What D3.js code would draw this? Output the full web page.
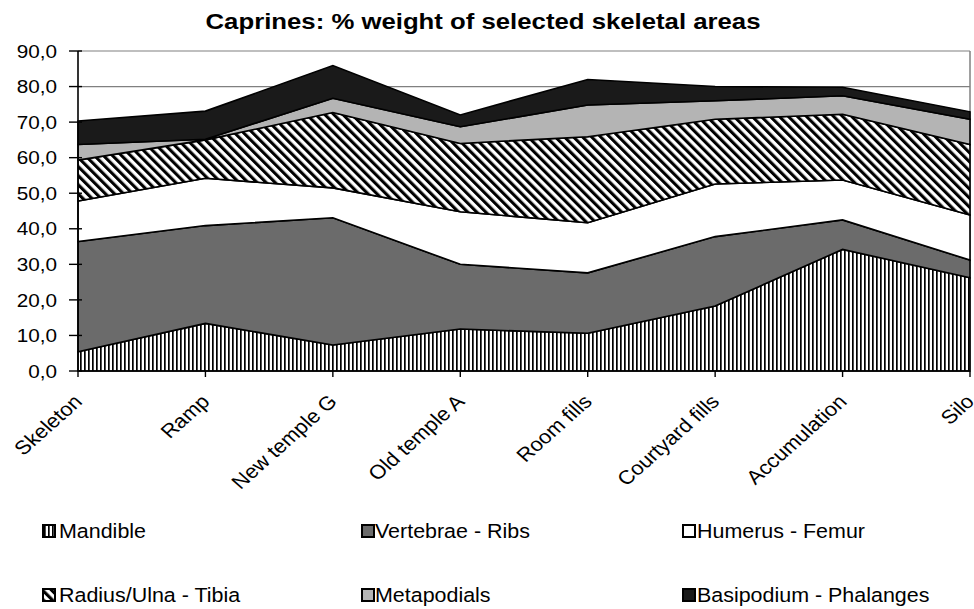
<!DOCTYPE html>
<html>
<head>
<meta charset="utf-8">
<script src="https://cdn.jsdelivr.net/npm/d3@7"></script>
<style>
  html, body { margin: 0; padding: 0; background: #fff; }
  svg { display: block; font-family: "Liberation Sans", Arial, sans-serif; }
</style>
</head>
<body>
<svg id="chart" width="974" height="609"></svg>
<script>
// ---- data ----
const categories = ["Skeleton", "Ramp", "New temple G", "Old temple A", "Room fills", "Courtyard fills", "Accumulation", "Silo"];
const mandible    = [5.4, 13.4, 7.3, 11.8, 10.6, 18.3, 34.2, 26.2];
const vertebrae   = [31.0, 27.5, 35.8, 18.2, 17.0, 19.5, 8.3, 5.0];
const humerus     = [11.4, 13.3, 8.4, 14.8, 14.1, 14.8, 11.2, 12.7];
const radius      = [11.5, 10.8, 21.2, 19.2, 24.2, 18.2, 18.5, 19.8];
const metapodials = [4.4, 0.2, 4.0, 4.7, 8.9, 5.2, 5.2, 7.1];
const basipodium  = [6.6, 7.9, 9.2, 3.3, 7.2, 4.0, 2.4, 2.1];
const seriesNames = ["Mandible", "Vertebrae - Ribs", "Humerus - Femur", "Radius/Ulna - Tibia", "Metapodials", "Basipodium - Phalanges"];
const seriesValues = [mandible, vertebrae, humerus, radius, metapodials, basipodium];
const yTicks = [0, 10, 20, 30, 40, 50, 60, 70, 80, 90];
const chartTitle = "Caprines: % weight of selected skeletal areas";

// ---- setup ----
const svg = d3.select("#chart");
const pLeft = 78, pRight = 970, pTop = 51, pBottom = 371;
const x = d3.scalePoint().domain(categories).range([pLeft, pRight]);
const y = d3.scaleLinear().domain([0, 90]).range([pBottom, pTop]);
const fmt = d3.formatLocale({decimal: ",", thousands: ".", grouping: [3], currency: ["", ""]}).format(".1f");
const SX = 1.12;

// patterns
const defs = svg.append("defs");
const pv = defs.append("pattern").attr("id", "pVert").attr("patternUnits", "userSpaceOnUse")
  .attr("width", 4).attr("height", 4);
pv.append("rect").attr("width", 4).attr("height", 4).attr("fill", "#fff");
pv.append("rect").attr("x", 0).attr("width", 1.7).attr("height", 4).attr("fill", "#000");

const pd = defs.append("pattern").attr("id", "pDiag").attr("patternUnits", "userSpaceOnUse")
  .attr("width", 6.4).attr("height", 6.4).attr("patternTransform", "rotate(-45)");
pd.append("rect").attr("width", 6.4).attr("height", 6.4).attr("fill", "#fff");
pd.append("rect").attr("x", 0).attr("width", 3.1).attr("height", 6.4).attr("fill", "#000");

const fills = ["url(#pVert)", "#6b6b6b", "#ffffff", "url(#pDiag)", "#b4b4b4", "#1a1a1a"];

// title
svg.append("text")
  .attr("transform", `translate(483,29) scale(1.17,1)`)
  .attr("text-anchor", "middle")
  .attr("font-weight", "bold").attr("font-size", 22)
  .attr("fill", "#000")
  .text(chartTitle);

// gridlines
svg.append("g").selectAll("line").data(yTicks.filter(d => d > 0)).join("line")
  .attr("x1", pLeft).attr("x2", pRight)
  .attr("y1", d => y(d)).attr("y2", d => y(d))
  .attr("stroke", "#808080").attr("stroke-width", 1.2);
// right border
svg.append("line").attr("x1", pRight).attr("x2", pRight).attr("y1", pTop).attr("y2", pBottom)
  .attr("stroke", "#808080").attr("stroke-width", 1.5);

// stacked areas
const rows = categories.map((c, i) => {
  const o = {cat: c};
  seriesNames.forEach((s, k) => o[s] = seriesValues[k][i]);
  return o;
});
const stacked = d3.stack().keys(seriesNames)(rows);
const area = d3.area()
  .x(d => x(d.data.cat))
  .y0(d => y(d[0]))
  .y1(d => y(d[1]));
svg.append("g").selectAll("path").data(stacked).join("path")
  .attr("d", area)
  .attr("fill", (d, i) => fills[i])
  .attr("stroke", "#000").attr("stroke-width", 1.6).attr("stroke-linejoin", "miter");

// y axis
svg.append("line").attr("x1", pLeft).attr("x2", pLeft).attr("y1", pTop).attr("y2", pBottom)
  .attr("stroke", "#000").attr("stroke-width", 1.6);
svg.append("g").selectAll("line").data(yTicks).join("line")
  .attr("x1", pLeft - 9).attr("x2", pLeft + 4)
  .attr("y1", d => y(d)).attr("y2", d => y(d))
  .attr("stroke", "#000").attr("stroke-width", 1.4);
svg.append("g").selectAll("text").data(yTicks).join("text")
  .attr("transform", d => `translate(57,${y(d)}) scale(${SX},1)`)
  .attr("text-anchor", "end").attr("dy", "0.36em")
  .attr("font-size", 18.5).attr("fill", "#000")
  .text(d => fmt(d));

// x axis
svg.append("line").attr("x1", pLeft).attr("x2", pRight).attr("y1", pBottom).attr("y2", pBottom)
  .attr("stroke", "#000").attr("stroke-width", 1.6);
svg.append("g").selectAll("line").data(categories).join("line")
  .attr("x1", d => x(d)).attr("x2", d => x(d))
  .attr("y1", pBottom).attr("y2", pBottom + 6)
  .attr("stroke", "#000").attr("stroke-width", 1.4);
svg.append("g").selectAll("text").data(categories).join("text")
  .attr("transform", d => `translate(${x(d)},${pBottom + 27}) scale(${SX},1) rotate(-45)`)
  .attr("text-anchor", "end").attr("dy", "0.35em")
  .attr("font-size", 19.5).attr("fill", "#000")
  .text(d => d);

// legend
const legX = [43, 362, 683];
const legTextX = [59, 375, 697];
const legY = [531, 595];
const leg = svg.append("g").selectAll("g").data(seriesNames).join("g")
  .attr("transform", (d, i) => `translate(0,${legY[Math.floor(i / 3)]})`);
leg.append("rect")
  .attr("x", (d, i) => legX[i % 3]).attr("y", -6)
  .attr("width", 12).attr("height", 12)
  .attr("fill", (d, i) => fills[i])
  .attr("stroke", "#000").attr("stroke-width", 2);
leg.append("text")
  .attr("transform", (d, i) => `translate(${legTextX[i % 3]},0) scale(1.1,1)`)
  .attr("dy", "0.36em").attr("font-size", 19.5).attr("fill", "#000")
  .text(d => d);
</script>
</body>
</html>
